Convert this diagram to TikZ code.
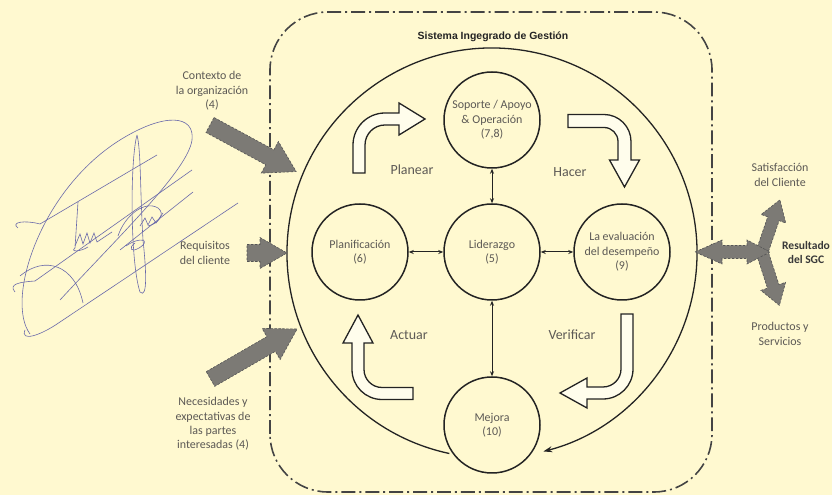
\documentclass[tikz,border=0pt]{standalone}
\usepackage{fontspec}
\setmainfont{Carlito}
\newfontfamily\titlefont{Liberation Sans}
\usetikzlibrary{arrows.meta}
\definecolor{bgc}{RGB}{255,249,208}
\definecolor{txtc}{RGB}{92,89,85}
\definecolor{linec}{RGB}{35,35,35}
\definecolor{grayfill}{RGB}{124,122,117}
\definecolor{grayedge}{RGB}{85,85,85}
\definecolor{sigc}{RGB}{105,105,170}
\newcommand\grayarrow[6]{%
  \begin{scope}[shift={#1},rotate=#2]
    \draw[garr] (0,#5) -- ({#3-#4},#5) -- ({#3-#4},#6) -- (#3,0) -- ({#3-#4},-#6) -- ({#3-#4},-#5) -- (0,-#5) -- cycle;
  \end{scope}}
\tikzset{
  proc/.style={circle, draw=linec, line width=1.5pt, fill=bgc, minimum size=96bp, inner sep=0pt,
    align=center, text=txtc, font=\fontsize{12}{14.5}\selectfont},
  lbl/.style={align=center, text=txtc, font=\fontsize{12}{14.5}\selectfont, inner sep=0pt},
  phase/.style={text=txtc, font=\fontsize{14}{16}\selectfont, inner sep=0pt},
  link/.style={linec, line width=1pt, {Stealth[length=5pt,width=4pt]}-{Stealth[length=5pt,width=4pt]}},
  border/.style={draw=linec!85, line width=1.6pt, dash pattern=on 14pt off 4pt on 2pt off 4pt, rounded corners=58bp},
  blockarr/.style={draw=linec, line width=1.3pt, fill=white!60!bgc, line join=miter},
  garr/.style={fill=grayfill, draw=grayedge, line width=0.6pt, dash pattern=on 2.5pt off 1.5pt},
  sig/.style={draw=sigc, line width=0.6pt},
}
\begin{document}
\begin{tikzpicture}[x=1bp,y=1bp]
\useasboundingbox (0,0) rectangle (832,495);
\clip (0,0) rectangle (832,495);
\fill[bgc] (0,0) rectangle (832,495);

% signature
\begin{scope}[shift={(0,495)}, yscale=-1]
  \draw[sig] (30,334) .. controls (5,300) and (40,190) .. (120,140) .. controls (165,112) and (195,115) .. (192,140) .. controls (188,170) and (120,235) .. (60,300);
  \draw[sig] (18,228) .. controls (10,222) and (25,220) .. (40,224) -- (157,155);
  \draw[sig] (15,292) .. controls (8,284) and (20,282) .. (35,281) -- (192,170);
  \draw[sig] (25,330) .. controls (20,342) and (40,336) .. (60,322) -- (238,203);
  \draw[sig] (120,250) -- (193,192);
  \draw[sig] (137,135) .. controls (130,160) and (130,262) .. (140,292) .. controls (148,300) and (146,268) .. (143,240) .. controls (140,190) and (141,150) .. (137,135);
  \draw[sig] (20,276) .. controls (45,255) and (75,265) .. (83,303);
  \draw[sig] (78,202) -- (75,248) .. controls (70,252) and (80,252) .. (88,247);
  \draw[sig] (75,246) -- (80,234) -- (83,244) -- (87,233) -- (90,243) -- (94,233) -- (97,242) -- (112,232);
  \draw[sig] (118,236) .. controls (125,215) and (145,200) .. (158,208) .. controls (166,214) and (158,224) .. (148,226);
  \draw[sig] (140,226) -- (145,218) -- (148,225) -- (152,217) -- (156,223) -- (163,213);
  \draw[sig] (126,246) .. controls (140,236) and (152,240) .. (139,248) .. controls (131,253) and (128,248) .. (135,243);
\end{scope}

% system boundary
\draw[border] (270,3) rectangle (712,483);
\node[font=\titlefont\bfseries\fontsize{10.5}{12}\selectfont, text=linec] (title) at (493,458) {Sistema Ingegrado de Gestión};

% big cycle arc
\coordinate (loopc) at (492,242);
\draw[linec, line width=1.3pt, -{Stealth[length=9pt,width=6pt]}]
  ([shift={(258:205)}]loopc) arc[start angle=258, end angle=-75.5, radius=205];

% process circles
\node[proc] (S) at (492,375) {Soporte / Apoyo\\ \& Operación\\ (7,8)};
\node[proc] (L) at (492,243) {Liderazgo\\ (5)};
\node[proc] (P) at (360,243) {Planificación\\ (6)};
\node[proc] (E) at (622,243) {La evaluación\\ del desempeño\\ (9)};
\node[proc] (M) at (492,70) {Mejora\\ (10)};

\draw[link] (P) -- (L);
\draw[link] (L) -- (E);
\draw[link] (L) -- (S);
\draw[link] (L) -- (M);

% block arrows
\draw[blockarr] (353,322) -- (353,350) arc[start angle=180, end angle=90, radius=32] -- (399,382) -- (399,392) -- (425,376) -- (399,360) -- (399,370) -- (385,370) arc[start angle=90, end angle=180, radius=20] -- (365,322) -- cycle;
\draw[blockarr] (568,380.5) -- (604,380.5) arc[start angle=90, end angle=0, radius=27] -- (631,335) -- (639.5,335) -- (624.5,308) -- (609.5,335) -- (618,335) -- (618,353.5) arc[start angle=0, end angle=90, radius=14] -- (568,367.5) -- cycle;
\draw[blockarr] (621,181) -- (621,126) arc[start angle=0, end angle=-90, radius=18] -- (587,108) -- (587,117) -- (560,102) -- (587,87) -- (587,96) -- (603,96) arc[start angle=-90, end angle=0, radius=30] -- (633,181) -- cycle;
\draw[blockarr] (413,107.5) -- (382,107.5) arc[start angle=-90, end angle=-180, radius=18] -- (364,152) -- (373,152) -- (358,180) -- (343,152) -- (352,152) -- (352,125.5) arc[start angle=180, end angle=270, radius=30] -- (413,95.5) -- cycle;

\node[phase] (planear) at (412,325) {Planear};
\node[phase] (hacer) at (570,323) {Hacer};
\node[phase] (actuar) at (409,160) {Actuar};
\node[phase] (verificar) at (572,160) {Verificar};

% inputs
\grayarrow{(210,370)}{-28.4}{98}{30}{8.5}{18}
\grayarrow{(247,242)}{0}{40}{27}{8.5}{15.5}
\grayarrow{(210.5,116)}{30}{100}{30}{8.5}{18}
\node[lbl] (ctx) at (212,404) {Contexto de\\ la organización\\ (4)};
\node[lbl] (req) at (205,242) {Requisitos\\ del cliente};
\node[lbl] (nec) at (213,71) {Necesidades y\\ expectativas de\\ las partes\\ interesadas (4)};

% outputs
\grayarrow{(763,246)}{71}{52}{20}{6}{13}
\grayarrow{(763,240)}{-72}{53}{20}{6}{13}
\draw[garr] (695,243) -- (722,255) -- (722,249.5) -- (747,249.5) -- (747,255) -- (770,243) -- (747,231) -- (747,236.5) -- (722,236.5) -- (722,231) -- cycle;
\node[lbl] (sat) at (780,320) {Satisfacción\\ del Cliente};
\node[lbl, text=linec!90, font=\bfseries\fontsize{11.6}{14.5}\selectfont] (res) at (806,242.5) {Resultado\\ del SGC};
\node[lbl] (prod) at (780,161) {Productos y\\ Servicios};
\end{tikzpicture}
\end{document}
